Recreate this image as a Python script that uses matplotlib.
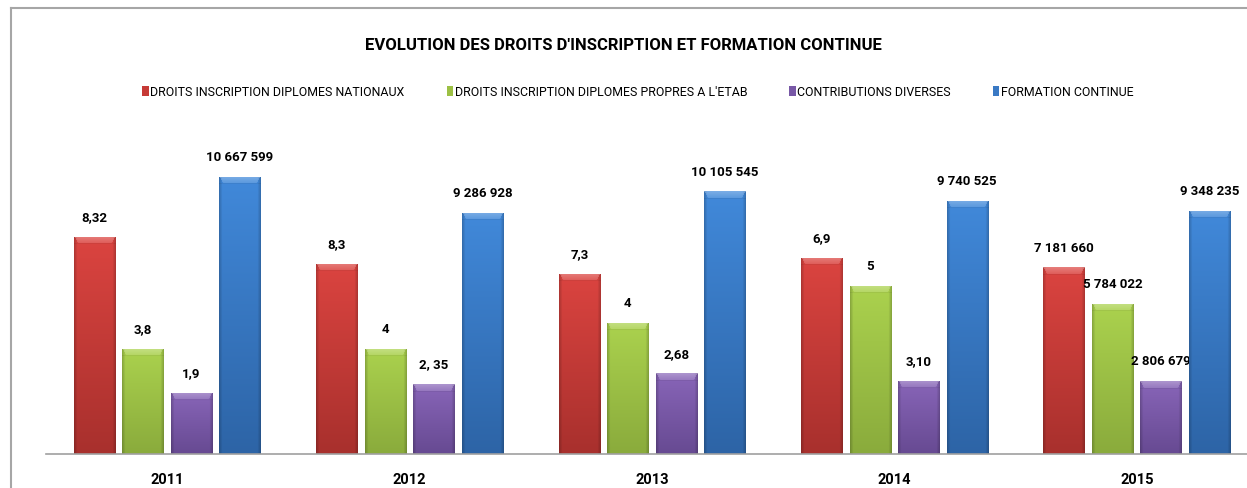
import numpy as np
import matplotlib
matplotlib.use("Agg")
import matplotlib.pyplot as plt
from matplotlib.patches import Patch
from matplotlib.lines import Line2D
from matplotlib.colors import to_rgb

# ---------------- data ----------------
years = ["2011", "2012", "2013", "2014", "2015"]
series_names = [
    "DROITS INSCRIPTION DIPLOMES NATIONAUX",
    "DROITS INSCRIPTION DIPLOMES PROPRES A L'ETAB",
    "CONTRIBUTIONS DIVERSES",
    "FORMATION CONTINUE",
]
nationaux = [8360000, 7320000, 6930000, 7550000, 7181660]
propres = [4040000, 4050000, 5050000, 6470000, 5784022]
contributions = [2350000, 2690000, 3100000, 2810000, 2806679]
formation = [10667599, 9286928, 10105545, 9740525, 9348235]

lab_nationaux = ["8,32", "8,3", "7,3", "6,9", "7 181 660"]
lab_propres = ["3,8", "4", "4", "5", "5 784 022"]
lab_contributions = ["1,9", "2, 35", "2,68", "3,10", "2 806 679"]
lab_formation = ["10 667 599", "9 286 928", "10 105 545", "9 740 525", "9 348 235"]

title = "EVOLUTION DES DROITS D'INSCRIPTION ET FORMATION CONTINUE"

# ---------------- style ----------------
FONT = ["Roboto", "DejaVu Sans"]
plt.rcParams["font.family"] = FONT

tops = ["#DB4440", "#ABD24E", "#8865B8", "#4189DA"]
bots = ["#A8302D", "#8AAB3C", "#674A92", "#2D64A6"]
legend_cols = ["#C63A36", "#9CC044", "#7858A6", "#3A79C4"]

W, H = 1247, 488
fig = plt.figure(figsize=(W / 100, H / 100), dpi=100)
fig.patch.set_facecolor("white")

ax_left = 46 / W
ax_w = 1212 / W
ax_bottom = (H - 454) / H
ax_h = 312 / H
ax = fig.add_axes([ax_left, ax_bottom, ax_w, ax_h])
ax.set_xlim(-0.5, 4.5)
ax.set_ylim(0, 12e6)
ax.set_facecolor("none")

x = np.arange(len(years))
slot = 0.2
bw = 0.17
all_vals = [nationaux, propres, contributions, formation]
all_labs = [lab_nationaux, lab_propres, lab_contributions, lab_formation]


def shade_bar(b, top, bot):
    x0, y0 = b.get_x(), b.get_y()
    w, h = b.get_width(), b.get_height()
    p0 = ax.transData.transform((x0, y0))
    p1 = ax.transData.transform((x0 + w, y0 + h))
    nc = max(int(round(p1[0] - p0[0])), 2)
    nr = max(int(round(p1[1] - p0[1])), 2)
    top = np.array(to_rgb(top))
    bot = np.array(to_rgb(bot))
    t = np.linspace(0, 1, nr)[:, None, None]
    img = top * (1 - t) + bot * t
    img = np.repeat(img, nc, axis=1)
    side = 3
    for c in range(nc):
        dist = min(c, nc - 1 - c)
        if dist < side:
            img[:, c, :] *= 0.82 + 0.06 * dist
    bev = 7
    for r in range(min(bev, nr)):
        for c in range(nc):
            if c >= r * 0.6 and c <= nc - 1 - r * 0.6:
                a = 0.30 - 0.025 * r
                img[r, c, :] = img[r, c, :] * (1 - a) + a
    if nr > bev:
        img[bev, :, :] *= 0.94
    img = np.clip(img, 0, 1)
    im = ax.imshow(img, extent=(x0, x0 + w, y0, y0 + h), aspect="auto",
                   interpolation="bilinear", zorder=3, origin="upper")
    im.set_clip_path(b)


for i, (vals, labs) in enumerate(zip(all_vals, all_labs)):
    pos = x + (i - 1.5) * slot
    bars = ax.bar(pos, vals, width=bw, color=tops[i], zorder=2, linewidth=0)
    for b, lab in zip(bars, labs):
        shade_bar(b, tops[i], bots[i])
        ax.annotate(lab, (b.get_x() + b.get_width() / 2, b.get_height()),
                    xytext=(0, 13.7), textcoords="offset points",
                    ha="center", va="center", fontsize=9.5,
                    fontweight="bold", color="#000000", family=FONT)

ax.set_xlim(-0.5, 4.5)
ax.set_ylim(0, 12e6)
ax.set_xticks(x)
ax.set_xticklabels(years, fontsize=10.5, fontweight="bold", color="#000000")
ax.tick_params(axis="x", length=0, pad=14)
ax.set_yticks([])
for s in ["top", "right", "left"]:
    ax.spines[s].set_visible(False)
ax.spines["bottom"].set_color("#A0A0A0")
ax.spines["bottom"].set_linewidth(1.2)
ax.spines["bottom"].set_zorder(5)

# title
fig.text(623 / W, 1 - 45 / H, title, ha="center", va="center",
         fontsize=12, fontweight="bold", color="#000000", family=FONT)

# legend
handles = [Patch(facecolor=legend_cols[i], edgecolor="none") for i in range(4)]
fig.legend(handles, series_names, loc="center", bbox_to_anchor=(638 / W, 1 - 92 / H),
           ncol=4, frameon=False, handlelength=0.5, handleheight=0.9,
           handletextpad=0.15, columnspacing=3.4,
           prop={"family": FONT, "size": 8.9})

# chart frame (partially visible)
fig.add_artist(Line2D([11 / W, 11 / W], [0, 1 - 7.5 / H], transform=fig.transFigure,
                      color="#A6A6A6", lw=1.5))
fig.add_artist(Line2D([11 / W, 1], [1 - 7.5 / H, 1 - 7.5 / H], transform=fig.transFigure,
                      color="#A6A6A6", lw=1.5))

fig.savefig("out.png", dpi=100, facecolor="white")
